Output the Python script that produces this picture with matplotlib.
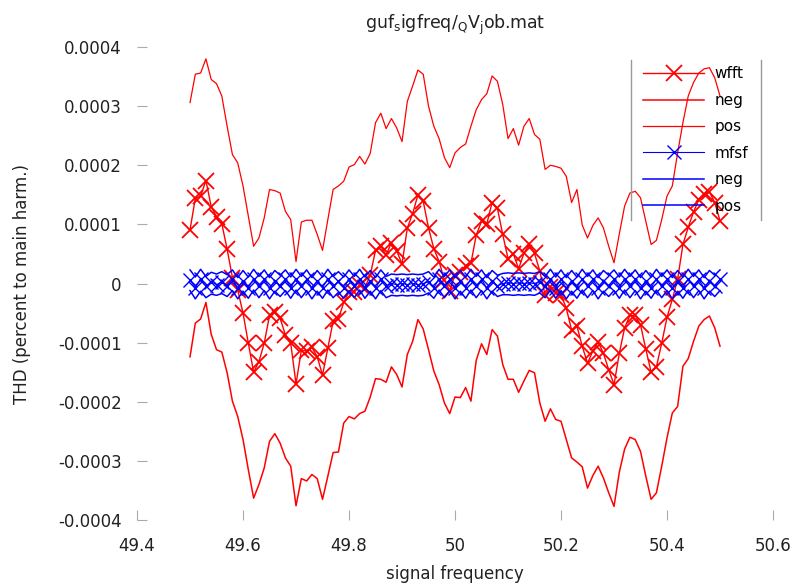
import numpy as np
import matplotlib
matplotlib.use("Agg")
import matplotlib.pyplot as plt
from matplotlib.lines import Line2D

# signal frequency grid (49.50 .. 50.50, 0.01 step)
freq = [round(49.50 + 0.01 * i, 2) for i in range(101)]

# THD values in units of 1e-4
wfft = [0.91, 1.44, 1.48, 1.74, 1.30, 1.13, 1.01, 0.58, 0.10, -0.11,
        -0.50, -1.01, -1.50, -1.32, -1.01, -0.54, -0.49, -0.59, -0.87, -1.01,
        -1.70, -1.13, -1.14, -1.08, -1.24, -1.55, -1.09, -0.64, -0.60, -0.32,
        -0.14, -0.14, -0.03, -0.07, 0.14, 0.56, 0.63, 0.48, 0.69, 0.55,
        0.33, 0.94, 1.18, 1.50, 1.39, 0.94, 0.59, 0.37, 0.06, -0.12,
        0.15, 0.19, 0.30, 0.34, 0.82, 1.05, 1.01, 1.37, 1.27, 0.83,
        0.42, 0.50, 0.25, 0.51, 0.66, 0.51, 0.21, -0.20, -0.06, -0.16,
        -0.19, -0.42, -0.79, -0.72, -1.06, -1.35, -1.14, -0.99, -1.18, -1.46,
        -1.71, -1.18, -0.75, -0.54, -0.54, -0.70, -1.11, -1.50, -1.41, -1.01,
        -0.57, -0.27, 0.07, 0.66, 0.95, 1.21, 1.42, 1.51, 1.55, 1.37,
        1.06]

wfft_neg = [-1.24, -0.67, -0.60, -0.32, -0.86, -1.12, -1.16, -1.51, -1.99, -2.25,
            -2.64, -3.15, -3.63, -3.40, -3.12, -2.67, -2.54, -2.70, -2.95, -3.09,
            -3.76, -3.30, -3.34, -3.23, -3.30, -3.65, -3.26, -2.86, -2.85, -2.36,
            -2.25, -2.29, -2.20, -2.16, -1.92, -1.61, -1.62, -1.67, -1.41, -1.54,
            -1.75, -1.20, -0.98, -0.61, -0.77, -1.12, -1.48, -1.71, -2.02, -2.20,
            -1.92, -1.93, -1.76, -1.99, -1.30, -1.02, -1.20, -0.78, -0.89, -1.37,
            -1.62, -1.62, -1.84, -1.65, -1.47, -1.51, -2.02, -2.33, -2.12, -2.30,
            -2.33, -2.64, -2.95, -3.02, -3.10, -3.46, -3.25, -3.09, -3.29, -3.54,
            -3.77, -3.19, -2.80, -2.60, -2.64, -2.84, -3.26, -3.65, -3.54, -3.09,
            -2.61, -2.19, -2.08, -1.40, -1.27, -0.98, -0.72, -0.61, -0.55, -0.75,
            -1.06]

wfft_pos = [3.06, 3.54, 3.56, 3.80, 3.45, 3.38, 3.17, 2.66, 2.18, 2.04,
            1.65, 1.14, 0.63, 0.77, 1.11, 1.59, 1.57, 1.53, 1.22, 1.08,
            0.37, 1.04, 1.07, 1.07, 0.83, 0.56, 1.08, 1.59, 1.65, 1.73,
            1.97, 2.01, 2.15, 2.02, 2.20, 2.72, 2.88, 2.62, 2.79, 2.63,
            2.40, 3.08, 3.34, 3.61, 3.54, 3.00, 2.66, 2.45, 2.13, 1.96,
            2.21, 2.30, 2.36, 2.66, 2.94, 3.11, 3.21, 3.51, 3.42, 3.03,
            2.45, 2.62, 2.34, 2.66, 2.79, 2.52, 2.44, 1.93, 2.00, 1.98,
            1.95, 1.81, 1.37, 1.59, 0.99, 0.77, 0.98, 1.11, 0.94, 0.63,
            0.35, 0.84, 1.31, 1.53, 1.56, 1.45, 1.05, 0.66, 0.73, 1.08,
            1.48, 1.65, 2.21, 2.72, 3.17, 3.40, 3.56, 3.63, 3.65, 3.48,
            3.17]

mfsf = [0.06, -0.07, 0.08, -0.05, 0.03, -0.02, 0.03, -0.04, 0.07, -0.08,
        0.05, -0.07, 0.08, -0.05, 0.07, -0.08, 0.05, -0.04, 0.07, -0.07,
        0.08, -0.05, 0.07, -0.08, 0.05, -0.07, 0.08, -0.05, 0.04, -0.07,
        0.07, -0.05, 0.08, -0.07, 0.05, -0.08, 0.07, -0.05, 0.00, -0.02,
        0.00, -0.02, 0.00, -0.02, 0.00, 0.03, -0.07, 0.08, -0.05, 0.07,
        -0.08, 0.05, -0.07, 0.08, -0.05, 0.07, -0.08, 0.05, -0.04, 0.00,
        0.01, 0.00, 0.01, 0.00, 0.01, 0.00, 0.03, -0.05, 0.08, -0.07,
        0.07, -0.08, 0.05, -0.07, 0.08, -0.05, 0.07, -0.08, 0.05, -0.04,
        0.07, -0.07, 0.08, -0.05, 0.07, -0.08, 0.05, -0.07, 0.08, -0.05,
        0.07, -0.08, 0.05, -0.07, 0.08, -0.05, 0.07, -0.08, 0.05, -0.04,
        0.07]

mfsf_neg = [-0.12, -0.26, -0.13, -0.24, -0.18, -0.20, -0.17, -0.22, -0.12, -0.26,
            -0.13, -0.25, -0.11, -0.24, -0.12, -0.26, -0.13, -0.22, -0.12, -0.25,
            -0.11, -0.24, -0.12, -0.26, -0.13, -0.25, -0.11, -0.24, -0.15, -0.25,
            -0.12, -0.24, -0.11, -0.25, -0.13, -0.26, -0.12, -0.24, -0.20, -0.21,
            -0.20, -0.21, -0.20, -0.21, -0.20, -0.16, -0.25, -0.11, -0.24, -0.12,
            -0.26, -0.13, -0.25, -0.11, -0.24, -0.12, -0.26, -0.13, -0.22, -0.19,
            -0.19, -0.20, -0.19, -0.20, -0.19, -0.20, -0.16, -0.24, -0.11, -0.25,
            -0.12, -0.26, -0.13, -0.25, -0.11, -0.24, -0.12, -0.26, -0.13, -0.22,
            -0.12, -0.25, -0.11, -0.24, -0.12, -0.26, -0.13, -0.25, -0.11, -0.24,
            -0.12, -0.26, -0.13, -0.25, -0.11, -0.24, -0.12, -0.26, -0.13, -0.22,
            -0.12]

mfsf_pos = [0.23, 0.11, 0.24, 0.12, 0.19, 0.16, 0.20, 0.15, 0.23, 0.10,
            0.22, 0.11, 0.24, 0.12, 0.23, 0.10, 0.22, 0.14, 0.23, 0.11,
            0.24, 0.12, 0.23, 0.10, 0.22, 0.11, 0.24, 0.12, 0.20, 0.11,
            0.23, 0.12, 0.24, 0.11, 0.22, 0.10, 0.23, 0.12, 0.16, 0.15,
            0.16, 0.15, 0.16, 0.15, 0.16, 0.20, 0.11, 0.24, 0.12, 0.23,
            0.10, 0.22, 0.11, 0.24, 0.12, 0.23, 0.10, 0.22, 0.14, 0.17,
            0.18, 0.17, 0.18, 0.17, 0.18, 0.17, 0.20, 0.12, 0.24, 0.11,
            0.23, 0.10, 0.22, 0.11, 0.24, 0.12, 0.23, 0.10, 0.22, 0.14,
            0.23, 0.11, 0.24, 0.12, 0.23, 0.10, 0.22, 0.11, 0.24, 0.12,
            0.23, 0.10, 0.22, 0.11, 0.24, 0.12, 0.23, 0.10, 0.22, 0.14,
            0.23]

xticks = [49.4, 49.6, 49.8, 50.0, 50.2, 50.4, 50.6]
xtick_labels = ["49.4", "49.6", "49.8", "50", "50.2", "50.4", "50.6"]
yticks = [-0.0004, -0.0003, -0.0002, -0.0001, 0.0, 0.0001, 0.0002, 0.0003, 0.0004]
ytick_labels = ["-0.0004", "-0.0003", "-0.0002", "-0.0001", "0",
                "0.0001", "0.0002", "0.0003", "0.0004"]

unit = 1e-4
f = np.array(freq)

plt.rcParams["font.family"] = ["DejaVu Sans"]
plt.rcParams["mathtext.default"] = "regular"

fig = plt.figure(figsize=(7.93, 5.84), dpi=100)
ax = fig.add_axes([0.1728, 0.1096, 0.8020, 0.8099])

ax.plot(f, np.array(wfft) * unit, color="red", lw=1.0, marker="x", ms=11,
        mew=1.3, label="wfft")
ax.plot(f, np.array(wfft_neg) * unit, color="red", lw=1.1, label="neg")
ax.plot(f, np.array(wfft_pos) * unit, color="red", lw=0.9, label="pos")
ax.plot(f, np.array(mfsf) * unit, color="blue", lw=0.8, marker="x", ms=10,
        mew=1.0, label="mfsf")
ax.plot(f, np.array(mfsf_neg) * unit, color="blue", lw=1.1, label="neg")
ax.plot(f, np.array(mfsf_pos) * unit, color="blue", lw=1.1, label="pos")

ax.set_xlim(49.4, 50.6)
ax.set_ylim(-0.0004, 0.0004)
ax.set_xticks(xticks)
ax.set_xticklabels(xtick_labels)
ax.set_yticks(yticks)
ax.set_yticklabels(ytick_labels)
for s in ax.spines.values():
    s.set_visible(False)
ax.tick_params(direction="in", length=7, color="#aaaaaa", labelsize=12,
               labelcolor="#222222")
ax.tick_params(axis="x", pad=12)
ax.tick_params(axis="y", pad=11)

ax.set_title(r"guf$_\mathrm{s}$igfreq/$_\mathrm{Q}$V$_\mathrm{j}$ob.mat",
             fontsize=12.5, color="#222222", pad=13)
ax.set_xlabel("signal frequency", fontsize=12, color="#222222")
ax.set_ylabel("THD (percent to main harm.)", fontsize=12, color="#222222")
ax.xaxis.set_label_coords(0.5, -0.095)
ax.yaxis.set_label_coords(-0.166, 0.5)

leg = ax.legend(loc="upper right", bbox_to_anchor=(0.983, 0.988), frameon=False,
                fontsize=11, handlelength=4.0, handletextpad=0.7,
                labelspacing=0.75, borderpad=0.4)

# legend box: only left and right edges, a little wider than the entries
fig.canvas.draw()
bb = leg.get_window_extent()
px = 6
inv = fig.transFigure.inverted()
(x0, y0), (x1, y1) = inv.transform([(bb.x0 - px, bb.y0), (bb.x1 + px, bb.y1)])
for xx in (x0, x1):
    fig.add_artist(Line2D([xx, xx], [y0, y1], transform=fig.transFigure,
                          color="#999999", lw=1.0))

fig.savefig("out.png", dpi=100)
